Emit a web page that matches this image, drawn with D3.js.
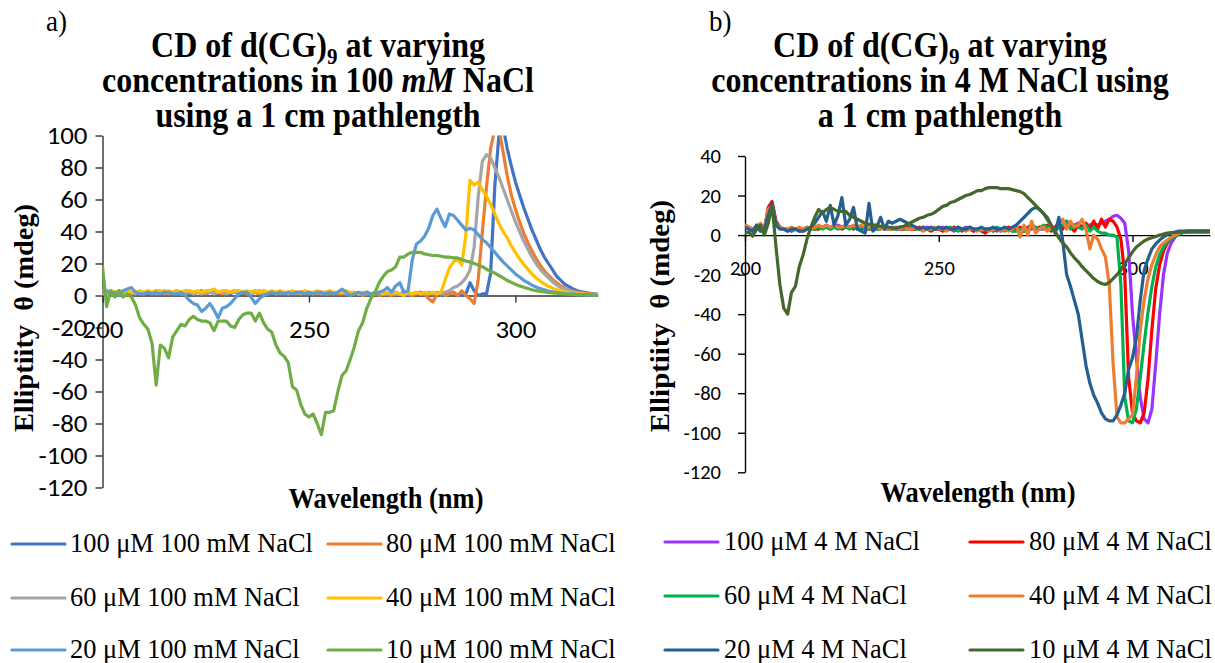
<!DOCTYPE html>
<html>
<head>
<meta charset="utf-8">
<script src="https://cdn.jsdelivr.net/npm/d3@7"></script>
<style>
  body { margin: 0; background: #fff; }
  svg { display: block; }
  text { white-space: pre; }
</style>
</head>
<body>
<svg id="chart" width="1215" height="663"></svg>
<script>
// CD spectra of d(CG)9, sampled every 1 nm from 200 to 320 nm
const wavelengths = d3.range(200, 321);

const xTicks = [200, 250, 300];
const yTicksA = [-120, -100, -80, -60, -40, -20, 0, 20, 40, 60, 80, 100];
const yTicksB = [-120, -100, -80, -60, -40, -20, 0, 20, 40];

// a) 100 mM NaCl
const labelsA = ["100 μM 100 mM NaCl", "80 μM 100 mM NaCl", "60 μM 100 mM NaCl",
                 "40 μM 100 mM NaCl", "20 μM 100 mM NaCl", "10 μM 100 mM NaCl"];
const colorsA = ["#4472C4", "#ED7D31", "#A5A5A5", "#FFC000", "#5B9BD5", "#70AD47"];

const a100 = [
  2,1,3,1,2,0,2,1,2,1,
  2,1,2,3,1,2,2,1,3,2,
  2,1,2,2,3,1,2,2,1,2,
  2,1,3,2,1,2,2,3,1,2,
  2,1,2,2,1,2,1,2,2,1,
  2,1,2,1,2,2,1,2,1,2,
  1,2,1,1,2,1,1,2,1,1,
  1,2,1,1,0,1,1,2,1,0,
  1,1,0,1,1,2,0,0,1,8,
  3,0,1,1,14,68,100,106,92,81,
  71,63,55,48,41,35,29,24,20,16,
  12,9.5,7,5.5,4,3,2.3,1.8,1.3,1,
  0.8];
const a80 = [
  1,2,0,2,1,3,2,1,2,1,
  2,2,1,3,2,1,2,2,3,1,
  2,3,1,2,2,1,3,2,2,1,
  2,2,3,1,2,1,2,2,1,3,
  1,2,2,1,2,1,2,1,2,2,
  1,2,1,2,1,1,2,1,1,2,
  1,1,2,0,1,1,2,0,1,1,
  0,1,1,2,1,0,1,2,1,-2,
  -4,1,2,0,1,2,0,3,0,-2,
  -5,10,40,68,92,104,104,90,75,63,
  54,46,39,33,28,23,19,15.5,12.5,10,
  8,6,4.5,3.5,2.6,2,1.6,1.2,1,0.8,
  0.6];
const a60 = [
  1,2,1,2,2,1,2,2,1,2,
  1,2,2,1,2,3,1,2,2,1,
  2,2,1,2,1,2,2,1,2,2,
  1,2,2,1,2,2,1,2,3,1,
  2,2,1,2,2,1,2,2,1,2,
  2,1,2,1,2,2,1,2,2,1,
  1,2,1,1,2,1,1,2,1,1,
  2,1,1,2,1,1,2,1,1,2,
  1,2,1,2,3,5,6,8,11,16,
  30,62,84,88,86,80,74,67,60,53,
  46,40,34,29,24,20,16.5,13.5,11,8.5,
  6.5,5,4,3,2.4,1.8,1.4,1.1,0.9,0.7,
  0.5];
const a40 = [
  3,0,3,2,3,2,3,2,2,3,
  2,3,2,3,3,2,3,2,3,2,
  3,3,2,3,2,3,3,4,2,3,
  3,2,3,3,2,3,2,3,2,3,
  2,3,2,3,2,2,3,2,2,3,
  2,2,3,2,2,3,2,2,2,3,
  2,2,1,2,2,1,2,2,1,2,
  1,2,1,0,2,1,2,1,2,1,
  2,1,2,10,17,21,23,19,38,72,
  69,71,66,62,57,51,45,40,36,31,
  27,23,19.5,16.5,13.5,11,9,7.2,5.8,4.6,
  3.6,2.9,2.3,1.9,1.5,1.2,1,0.8,0.6,0.5,
  0.4];
const a20 = [
  2,3,1,2,0,3,4,5,2,1,
  1,2,1,2,1,2,2,1,1,2,
  0,-3,-5,-6,-10,-8,-5,-9,-14,-8,
  -7,-5,-2,1,2,2,-1,-5,-2,0,
  1,2,1,2,1,2,1,2,2,1,
  2,1,2,2,1,2,1,2,4,2,
  0,1,2,1,2,1,1,2,3,5,
  2,6,8,2,3,22,32,34,37,42,
  50,54,48,43,51,50,47,44,41,42,
  41,38,35,33,30,27,24,21,18.5,16,
  13.5,11.5,9.5,8,6.5,5.3,4.3,3.5,2.8,2.3,
  1.8,1.5,1.2,1,0.8,0.6,0.5,0.4,0.4,0.3,
  0.3];
const a10 = [
  18,-7,3,-1,3,-1,1,-1,-6,-14,
  -18,-21,-30,-56,-31,-33,-39,-26,-22,-18,
  -19,-15,-13,-15,-16,-16,-17,-22,-16,-16,
  -16,-19,-20,-15,-12,-11,-11,-16,-11,-17,
  -21,-23,-31,-36,-38,-42,-57,-59,-68,-74,
  -76,-74,-80,-87,-73,-73,-72,-60,-50,-47,
  -40,-32,-22,-17,-8,-2,2,8,12,15,
  16,18,24,24,26,27,27,27,26,25.5,
  25,25,24.5,24,24,23.5,23.5,22.5,21.5,21,
  20,19,18,16.5,15,14,12.5,11,9.5,8.2,
  7,6,5.2,4.4,3.6,3,2.6,2.2,1.9,1.6,
  1.4,1.2,1,0.9,0.8,0.6,0.5,0.5,0.4,0.4,
  0.3];

// b) 4 M NaCl
const labelsB = ["100 μM 4 M NaCl", "80 μM 4 M NaCl", "60 μM 4 M NaCl",
                 "40 μM 4 M NaCl", "20 μM 4 M NaCl", "10 μM 4 M NaCl"];
const colorsB = ["#9933FF", "#FF0000", "#00B050", "#ED7D31", "#255E91", "#43682B"];

const b100 = [
  4,3,2,5,3,2,12,16,6,4,
  3,2,3,3,2,3,3,4,3,4,
  4,5,4,4,5,4,5,4,4,3,
  4,3,4,4,3,4,3,3,4,3,
  3,4,3,3,4,3,3,4,3,3,
  3,4,3,3,2,3,3,4,3,2,
  3,3,2,3,3,2,3,3,3,2,
  3,3,2,3,3,4,3,3,4,3,
  4,5,4,5,4,5,6,4,5,5,
  6,5,6,7,8,9.5,10,8.5,6,-8,
  -40,-62,-82,-93,-95,-88,-65,-40,-20,-9,
  -4,-1,0.5,1.3,1.8,2,2,2,2,2,
  2];
const b80 = [
  5,4,3,4,3,3,14,17,7,4,
  3,3,2,3,3,2,3,4,3,3,
  4,4,3,4,4,3,4,4,3,4,
  3,4,3,3,4,3,4,3,3,4,
  3,3,4,3,3,4,3,3,2,3,
  3,2,3,3,4,3,2,3,3,2,
  3,2,1,3,2,3,2,3,4,3,
  3,4,2,4,5,3,4,4,5,2,
  4,6,3,7,4,2,5,4,6,3,
  7,3,8,4,8,7,4,-2,-20,-72,
  -90,-94,-95,-90,-73,-48,-27,-15,-8,-4,
  -2,0,1,1.5,2,2,2,2,2,2,
  2];
const b60 = [
  4,3,3,4,2,3,12,15,6,4,
  3,3,2,3,3,3,4,3,3,4,
  3,4,3,4,3,4,4,3,4,3,
  4,3,3,4,3,3,4,3,3,3,
  4,3,3,4,3,3,4,3,3,3,
  4,3,3,4,3,2,3,3,4,3,
  3,2,3,3,2,4,3,2,3,2,
  2,3,2,3,5,4,3,5,4,3,
  2,4,5,7,3,5,4,3,5,2,
  4,2,1,1,0,0,-1,-25,-82,-94,
  -95,-88,-72,-55,-39,-26,-16,-10,-6,-3.5,
  -2,-0.5,0.5,1.2,1.6,2,2,2,2,2,
  2];
const b40 = [
  5,4,3,4,6,3,13,15,5,4,
  3,3,4,3,4,3,4,3,4,5,
  4,5,4,5,4,4,5,4,5,4,
  5,4,4,5,4,3,4,3,3,4,
  3,4,3,3,4,3,2,3,3,4,
  3,3,2,3,3,4,3,2,3,3,
  2,3,3,2,3,3,2,3,2,3,
  5,-1,5,0,7,1,3,4,2,4,
  3,6,8,3,7,4,5,8,3,-7,
  0,-2,-7,-11,-25,-65,-92,-95,-95,-93,
  -91,-72,-48,-33,-22,-15,-10,-6,-4,-2.5,
  -1,0,1,1.5,2,2,2,2,2,2,
  2];
const b20 = [
  4,3,2,5,2,3,10,16,5,3,
  3,2,3,3,2,2,3,4,6,9,
  12,7,15,5,10,19,5,8,14,3,
  2,1,16,2,4,9,3,7,6,7,
  8,7,6,5,4,3,4,3,4,3,
  4,3,4,3,3,4,3,3,4,3,
  3,4,3,3,4,3,3,4,3,4,
  5,7,9,11,13,14,13,11,8,5,
  1,9,-3,-20,-26,-33,-40,-53,-66,-75,
  -81,-85,-90,-93,-94,-94,-91,-86,-80,-68,
  -62,-52,-33,-18,-12,-7,-4.5,-2.5,-1,0.3,
  1,1.5,2,2,2,2,2,2,2,2,
  2];
const b10 = [
  1,1.5,-0.5,3,5,0,6,15,-6,-25,
  -37,-40,-29,-26,-16,-10,-2,4,9,13,
  11,13,14,13,12,12,12,10,9,8,
  7,6,5.5,5,5,4.5,4,4,3.5,3.5,
  4,4.5,5.5,6.5,7.5,8.5,9,10,10.5,11.5,
  13,14.5,15,16.5,17,18,19,20,20.5,21.5,
  22.5,22.5,23.5,24,24,24,23.5,23.5,23.5,23,
  22.5,22,21,19,17,15,13,11,9,5,
  2,-1.5,-4,-6,-9,-11.5,-13.5,-16,-18,-20,
  -22,-23.5,-24.5,-25,-24,-22,-20,-17.5,-14.5,-11.5,
  -8.5,-6,-4.5,-3,-2,-1.3,-0.7,0,0.5,1,
  1.2,1.3,1.5,1.5,1.5,1.5,1.5,1.5,1.5,1.5,
  1.5];

const SERIF = "'Liberation Serif', 'Times New Roman', serif";
const SANS = "Carlito, Lato, sans-serif";

const svg = d3.select("#chart");
const defs = svg.append("defs");

// text made of styled runs (italic, subscript)
function addText(parent, x, y, parts, o) {
  let tf = `translate(${x},${y})`;
  if (o.rotate) tf += ` rotate(${o.rotate})`;
  if (o.sx || o.sy) tf += ` scale(${o.sx || 1},${o.sy || 1})`;
  const t = parent.append("text")
    .attr("transform", tf)
    .attr("text-anchor", o.anchor || "start")
    .attr("fill", "#000")
    .style("font-family", o.family || SERIF)
    .style("font-size", o.size + "px")
    .style("font-weight", o.weight || "normal");
  let shift = 0;
  parts.forEach(p => {
    const s = typeof p === "string" ? { t: p } : p;
    const ts = t.append("tspan").text(s.t);
    if (s.italic) ts.style("font-style", "italic");
    if (s.sub) {
      shift = Math.round(o.size * 0.2);
      ts.style("font-size", Math.round(o.size * 0.65) + "px").attr("dy", shift);
    } else if (shift) {
      ts.attr("dy", -shift);
      shift = 0;
    }
  });
  return t;
}

const panels = [
  {
    id: "a",
    x: d3.scaleLinear().domain([200, 320]).range([102.5, 598]),
    y: d3.scaleLinear().domain([-120, 100]).range([487.5, 135.5]),
    yTicks: yTicksA,
    axisColor: "#333",
    tickFont: 24, tickStretch: 1.12, yPad: 8, xPad: 18,
    series: [a100, a80, a60, a40, a20, a10],
    colors: colorsA, labels: labelsA,
    title: [
      ["CD of d(CG)", { t: "9", sub: true }, " at varying"],
      ["concentrations in 100 ", { t: "mM", italic: true }, " NaCl"],
      ["using a 1 cm pathlength"]
    ],
    titleX: 318, titleY: [57, 92, 127],
    tag: "a)", tagX: 46, tagY: 31,
    xTitleX: 386, xTitleY: 508,
    yTitleX: 33, yTitleY: 318, yTitleSize: 27, yTitleStretch: 1.05,
    legend: { lineX: [12, 328], len: 53, textGap: 5, rows: [544, 598, 650] }
  },
  {
    id: "b",
    x: d3.scaleLinear().domain([200, 320]).range([745, 1210]),
    y: d3.scaleLinear().domain([-120, 40]).range([472.3, 156]),
    yTicks: yTicksB,
    axisColor: "#000",
    tickFont: 20.5, tickStretch: 1, yPad: 17, xPad: 18,
    series: [b100, b80, b60, b40, b20, b10],
    colors: colorsB, labels: labelsB,
    title: [
      ["CD of d(CG)", { t: "9", sub: true }, " at varying"],
      ["concentrations in 4 M NaCl using"],
      ["a 1 cm pathlength"]
    ],
    titleX: 940, titleY: [57, 92, 127],
    tag: "b)", tagX: 709, tagY: 31,
    xTitleX: 978, xTitleY: 502,
    yTitleX: 669, yTitleY: 316, yTitleSize: 27.5, yTitleStretch: 1.05,
    legend: { lineX: [665, 970], len: 53, textGap: 6, rows: [542, 596, 650] }
  }
];

panels.forEach(p => {
  const g = svg.append("g").attr("class", "panel-" + p.id);
  const [x0, x1] = p.x.range();
  const [yb, yt] = p.y.range();

  defs.append("clipPath").attr("id", "plot-" + p.id)
    .append("rect").attr("x", x0).attr("y", yt).attr("width", x1 - x0).attr("height", yb - yt);

  // y axis
  const gy = g.append("g")
    .attr("transform", `translate(${x0},0)`)
    .call(d3.axisLeft(p.y).tickValues(p.yTicks).tickSize(7).tickSizeOuter(0)
      .tickPadding(p.yPad).tickFormat(d => String(d)));
  // x axis through zero
  const gx = g.append("g")
    .attr("transform", `translate(0,${p.y(0)})`)
    .call(d3.axisBottom(p.x).tickValues(xTicks).tickSize(7).tickSizeOuter(0)
      .tickPadding(p.xPad).tickFormat(d => String(d)));

  [gy, gx].forEach(ax => {
    ax.select(".domain").attr("stroke", p.axisColor).attr("stroke-width", 1.4);
    ax.selectAll(".tick line").attr("stroke", p.axisColor).attr("stroke-width", 1.4);
    ax.selectAll(".tick text")
      .attr("fill", "#000")
      .style("font-family", SANS)
      .style("font-size", p.tickFont + "px");
  });
  if (p.tickStretch !== 1) {
    gy.selectAll(".tick text").each(function () {
      const t = d3.select(this);
      const tx = +t.attr("x");
      t.attr("x", 0).attr("transform", `translate(${tx},0) scale(${p.tickStretch},1)`);
    });
    gx.selectAll(".tick text").attr("transform", `scale(${p.tickStretch},1)`);
  }

  // spectra
  const line = d3.line()
    .x((d, i) => p.x(wavelengths[i]))
    .y(d => p.y(d));
  g.append("g").attr("clip-path", `url(#plot-${p.id})`)
    .selectAll("path")
    .data(p.series)
    .join("path")
    .attr("d", d => line(d))
    .attr("fill", "none")
    .attr("stroke", (d, i) => p.colors[i])
    .attr("stroke-width", 3.2)
    .attr("stroke-linejoin", "round")
    .attr("stroke-linecap", "round");

  // titles
  p.title.forEach((parts, i) => {
    addText(g, p.titleX, p.titleY[i], parts, { size: 32, weight: "bold", anchor: "middle", sy: 1.14 });
  });
  addText(g, p.tagX, p.tagY, [p.tag], { size: 27, sy: 1.12 });
  addText(g, p.xTitleX, p.xTitleY, ["Wavelength (nm)"], { size: 26.5, weight: "bold", anchor: "middle", sy: 1.12 });
  addText(g, p.yTitleX, p.yTitleY, ["Elliptiity  θ (mdeg)"],
    { size: p.yTitleSize, weight: "bold", anchor: "middle", rotate: -90, sx: p.yTitleStretch });

  // legend: two columns, three rows
  const lg = g.append("g");
  p.labels.forEach((lab, i) => {
    const col = i % 2, row = Math.floor(i / 2);
    const lx = p.legend.lineX[col], ly = p.legend.rows[row];
    lg.append("line")
      .attr("x1", lx).attr("x2", lx + p.legend.len)
      .attr("y1", ly).attr("y2", ly)
      .attr("stroke", p.colors[i]).attr("stroke-width", 3.2).attr("stroke-linecap", "round");
    addText(lg, lx + p.legend.len + p.legend.textGap, ly + 8, [lab], { size: 26.4, sy: 1.06 });
  });
});
</script>
</body>
</html>
